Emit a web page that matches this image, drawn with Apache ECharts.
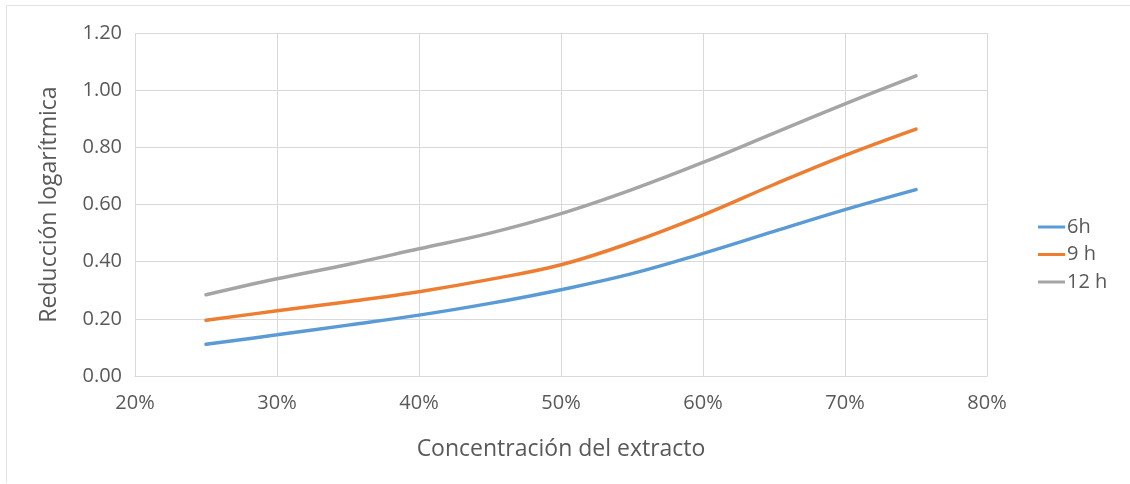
<!DOCTYPE html>
<html>
<head>
<meta charset="utf-8">
<script src="https://cdn.jsdelivr.net/npm/echarts@6/dist/echarts.min.js"></script>
<style>
  html, body { margin: 0; padding: 0; background: #fff; }
  #chart { width: 1130px; height: 484px; }
</style>
</head>
<body>
<div id="chart"></div>
<script>
// Concentration of the extract (%) and log reduction per exposure time
const concentrations = [25, 30, 35, 40, 45, 50, 55, 60, 65, 70, 75];
const seriesNames = ['6h', '9 h', '12 h'];
const values6h = [0.111, 0.144, 0.178, 0.213, 0.254, 0.302, 0.358, 0.429, 0.506, 0.582, 0.652];
const values9h = [0.195, 0.228, 0.260, 0.295, 0.338, 0.389, 0.468, 0.563, 0.670, 0.772, 0.864];
const values12h = [0.284, 0.340, 0.390, 0.445, 0.500, 0.568, 0.652, 0.747, 0.850, 0.952, 1.05];
const seriesColors = ['#5B9BD5', '#ED7D31', '#A5A5A5'];

const FONT = '"Open Sans", sans-serif';
const TEXT = '#595959';
const GRID = '#d9d9d9';

function pairs(ys) {
  return concentrations.map((x, i) => [x, ys[i]]);
}

const allValues = [values6h, values9h, values12h];

const chart = echarts.init(document.getElementById('chart'), null, { renderer: 'canvas' });
chart.setOption({
  animation: false,
  backgroundColor: '#fff',
  textStyle: { fontFamily: FONT },
  graphic: [
    { type: 'line', shape: { x1: 6, y1: 5.5, x2: 1130, y2: 5.5 }, style: { stroke: '#e3e3e3', lineWidth: 1 } },
    { type: 'line', shape: { x1: 6.5, y1: 5, x2: 6.5, y2: 483 }, style: { stroke: '#e3e3e3', lineWidth: 1 } }
  ],
  grid: { left: 135, right: 143, top: 33, bottom: 108 },
  legend: {
    orient: 'vertical',
    left: 1033,
    top: 212,
    itemWidth: 27,
    itemHeight: 3,
    itemGap: 7.5,
    icon: 'rect',
    textStyle: { color: TEXT, fontSize: 20, lineHeight: 20, fontFamily: FONT, padding: [0, 0, 0, -3] },
    data: seriesNames
  },
  xAxis: {
    type: 'value',
    min: 20,
    max: 80,
    interval: 10,
    name: 'Concentración del extracto',
    nameLocation: 'middle',
    nameGap: 62,
    nameTextStyle: { color: TEXT, fontSize: 23, fontFamily: FONT },
    axisLine: { show: true, lineStyle: { color: GRID, width: 1 } },
    axisTick: { show: false },
    axisLabel: { color: TEXT, fontSize: 20, fontFamily: FONT, margin: 17, formatter: v => v + '%' },
    splitLine: { show: true, lineStyle: { color: GRID, width: 1 } }
  },
  yAxis: {
    type: 'value',
    min: 0,
    max: 1.2,
    interval: 0.2,
    name: 'Reducción logarítmica',
    nameLocation: 'middle',
    nameRotate: 90,
    nameGap: 74,
    nameTextStyle: { color: TEXT, fontSize: 23, fontFamily: FONT },
    axisLine: { show: false },
    axisTick: { show: false },
    axisLabel: { color: TEXT, fontSize: 20, fontFamily: FONT, margin: 13, formatter: v => v.toFixed(2) },
    splitLine: { show: true, lineStyle: { color: GRID, width: 1 } }
  },
  series: seriesNames.map((name, i) => ({
    name: name,
    type: 'line',
    smooth: 0.4,
    showSymbol: false,
    symbol: 'none',
    data: pairs(allValues[i]),
    lineStyle: { color: seriesColors[i], width: 3.5, cap: 'round' },
    itemStyle: { color: seriesColors[i] }
  }))
});
</script>
</body>
</html>
